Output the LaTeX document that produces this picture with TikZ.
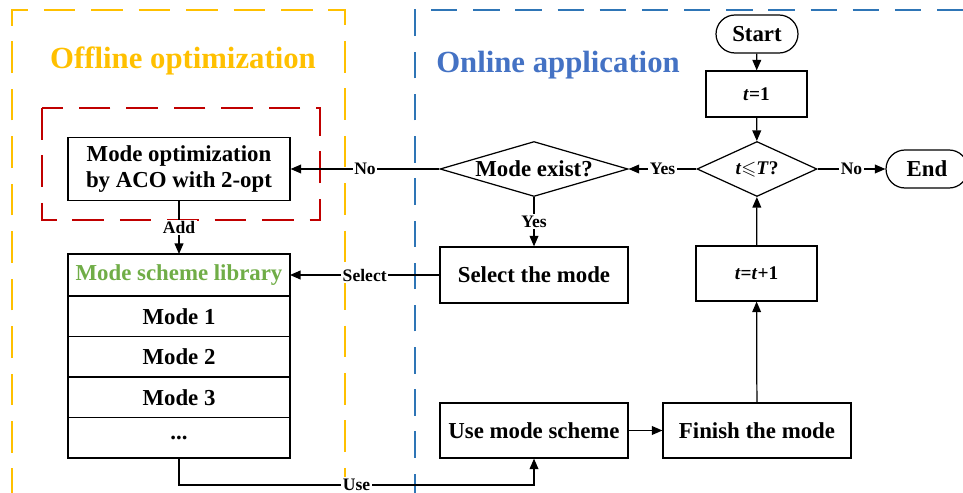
\documentclass[tikz,border=0pt]{standalone}
\usepackage{fontspec}
\setmainfont{Liberation Serif}
\usepackage{amssymb}
\usetikzlibrary{shapes.geometric,arrows.meta,positioning}
\definecolor{offyellow}{HTML}{FFC000}
\definecolor{onblue}{HTML}{4472C4}
\definecolor{lineblue}{HTML}{2E75B6}
\definecolor{acored}{HTML}{C00000}
\definecolor{libgreen}{HTML}{70AD47}

\begin{document}
\begin{tikzpicture}[x=0.02cm, y=-0.02cm, line width=0.7pt,
    font=\bfseries\fontsize{13}{15}\selectfont,
    >={Triangle[length=6pt,width=5pt]},
    box/.style={draw, rectangle, inner sep=0pt, minimum height=1.1cm},
    decision/.style={draw, diamond, aspect=3.4, inner sep=0pt, minimum height=1.1cm},
    terminal/.style={draw, rounded corners=0.38cm, minimum width=1.64cm, minimum height=0.76cm, inner sep=0pt},
    libcell/.style={draw, minimum width=4.44cm, minimum height=0.81cm, inner sep=0pt, outer sep=0pt},
    lbl/.style={fill=white, inner sep=1pt, font=\bfseries\fontsize{10}{12}\selectfont},
    region/.style={dash pattern=on 18pt off 9pt, line width=0.9pt}]
    \useasboundingbox (0,0) rectangle (963,493);
    \clip (0,0) rectangle (963,493);

    % Dashed regions
    \draw[region, offyellow] (12,500) -- (12,10) -- (345,10) -- (345,500);
    \draw[region, lineblue, dash pattern=on 15pt off 9pt] (415,500) -- (415,10) -- (975,10);
    \draw[region, acored] (42,108) rectangle (320,220);

    % Titles
    \node[text=offyellow, font=\bfseries\fontsize{17.5}{20}\selectfont] (offtitle) at (183,61) {Offline optimization};
    \node[text=onblue, font=\bfseries\fontsize{17.5}{20}\selectfont] (ontitle) at (558,65) {Online application};

    % Offline part
    \node[box, minimum width=4.44cm, minimum height=1.26cm, align=center] (aco) at (179,169) {Mode optimization\\by ACO with 2-opt};
    \node[libcell, minimum height=0.84cm, text=libgreen] (lib) at (179,275) {Mode scheme library};
    \node[libcell, below=0pt of lib] (m1) {Mode 1};
    \node[libcell, below=0pt of m1] (m2) {Mode 2};
    \node[libcell, below=0pt of m2] (m3) {Mode 3};
    \node[libcell, below=0pt of m3] (m4) {...};

    % Online part
    \node[terminal] (start) at (757,34) {Start};
    \node[box, minimum width=2.02cm, minimum height=0.92cm, font=\bfseries\fontsize{11}{13}\selectfont] (t1) at (756.5,94) {\textit{t}=1};
    \node[decision, minimum width=2.4cm, font=\bfseries\fontsize{11}{13}\selectfont] (tcheck) at (757,169) {\textit{t}$\leqslant$\textit{T}?};
    \node[terminal] (end) at (927,169) {End};
    \node[decision, minimum width=3.76cm] (exist) at (534,169) {Mode exist?};
    \node[box, minimum width=3.76cm, minimum height=1.12cm] (select) at (534,275) {Select the mode};
    \node[box, minimum width=2.42cm, font=\bfseries\fontsize{11}{13}\selectfont] (tinc) at (756.5,273.5) {\textit{t}=\textit{t}+1};
    \node[box, minimum width=3.76cm] (use) at (534,430.5) {Use mode scheme};
    \node[box, minimum width=3.76cm] (finish) at (757,430.5) {Finish the mode};

    % Connectors
    \draw[->] (start) -- (t1);
    \draw[->] (t1) -- (tcheck);
    \draw[->] (tcheck) -- node[lbl] {No} (end);
    \draw[->] (tcheck) -- node[lbl] {Yes} (exist);
    \draw[->] (exist) -- node[lbl] {Yes} (select);
    \draw[->] (exist) -- node[lbl] {No} (aco);
    \draw[->] (select) -- node[lbl] {Select} (lib);
    \draw[->] (aco) -- node[lbl] {Add} (lib);
    \draw[->] (m4.south) -- ++(0,27) -| node[pos=0.25, lbl] {Use} (use.south);
    \draw[->] (use) -- (finish);
    \draw[->] (finish) -- (tinc);
    \draw[->] (tinc) -- (tcheck);
\end{tikzpicture}
\end{document}
